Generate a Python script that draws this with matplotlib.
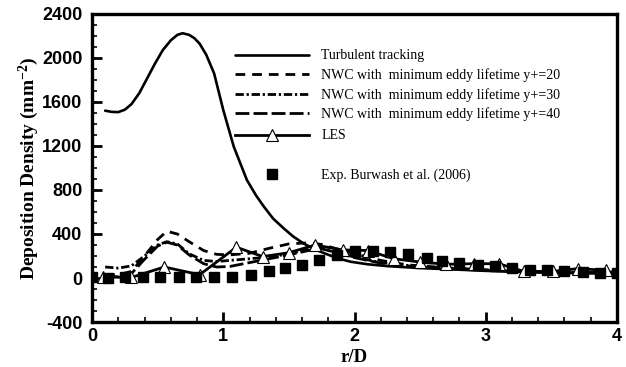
import matplotlib
matplotlib.use("Agg")
import matplotlib.pyplot as plt
from matplotlib.ticker import MultipleLocator

plt.rcParams["axes.unicode_minus"] = False
plt.rcParams["mathtext.fontset"] = "custom"
plt.rcParams["mathtext.rm"] = "Liberation Serif:bold"
plt.rcParams["mathtext.it"] = "Liberation Serif:bold"
plt.rcParams["mathtext.bf"] = "Liberation Serif:bold"

# ---------------- data ----------------
tt_x = [0.10, 0.15, 0.20, 0.25, 0.30, 0.36, 0.42, 0.48, 0.54, 0.60, 0.65, 0.69, 0.74, 0.78,
        0.82, 0.87, 0.93, 1.00, 1.08, 1.18, 1.25, 1.31, 1.38, 1.46, 1.53, 1.61, 1.69, 1.77,
        1.87, 1.97, 2.10, 2.25, 2.50, 2.75, 3.00, 3.25, 3.50, 3.75, 4.00]
tt_y = [1521, 1510, 1508, 1530, 1580, 1680, 1815, 1950, 2073, 2160, 2210, 2225, 2210, 2180,
        2130, 2030, 1861, 1527, 1194, 891, 750, 648, 540, 452, 380, 315, 265, 225,
        180, 148, 125, 108, 90, 78, 65, 55, 48, 43, 40]

nwc_x = [0.10, 0.20, 0.30, 0.40, 0.50, 0.57, 0.65, 0.74, 0.85, 0.95, 1.05, 1.20, 1.35, 1.50,
         1.65, 1.75, 1.85, 2.00, 2.20, 2.40, 2.60, 2.80, 3.00, 3.25, 3.50, 3.75, 4.00]
nwc20_y = [30, 30, 60, 200, 350, 425, 400, 330, 250, 215, 210, 225, 270, 310,
           320, 305, 270, 220, 160, 120, 100, 85, 75, 65, 58, 55, 55]
nwc30_y = [100, 90, 110, 200, 300, 330, 310, 220, 160, 150, 160, 175, 190, 220,
           260, 270, 240, 190, 140, 115, 100, 85, 75, 60, 55, 50, 50]
nwc40_y = [20, 10, 40, 170, 290, 325, 300, 210, 130, 100, 105, 140, 175, 210,
           250, 265, 235, 185, 135, 110, 95, 80, 70, 60, 52, 48, 45]

les_x = [0.08, 0.30, 0.55, 0.82, 1.10, 1.30, 1.50, 1.70, 1.91, 2.10, 2.30, 2.50, 2.70, 2.91,
         3.10, 3.29, 3.51, 3.70, 3.92]
les_y = [10, 5, 100, 30, 280, 195, 230, 300, 255, 250, 175, 145, 125, 130,
         130, 60, 60, 85, 70]

exp_x = [0.00, 0.12, 0.25, 0.39, 0.52, 0.66, 0.79, 0.93, 1.07, 1.21, 1.35, 1.47, 1.60, 1.73,
         1.87, 2.00, 2.14, 2.27, 2.41, 2.55, 2.67, 2.80, 2.94, 3.07, 3.20, 3.34, 3.47, 3.60,
         3.74, 3.87, 4.00]
exp_y = [5, 0, 5, 5, 5, 5, 5, 5, 12, 27, 60, 90, 120, 164,
         209, 245, 248, 233, 215, 179, 155, 133, 118, 109, 88, 73, 73, 67,
         57, 48, 42]

labels = ["Turbulent tracking",
          "NWC with  minimum eddy lifetime y+=20",
          "NWC with  minimum eddy lifetime y+=30",
          "NWC with  minimum eddy lifetime y+=40",
          "LES",
          "Exp. Burwash et al. (2006)"]

# ---------------- figure ----------------
fig = plt.figure(figsize=(6.26, 3.67), dpi=100)
ax = fig.add_axes([0.147, 0.1226, 0.8386, 0.8393])

lw = 2.0
l1, = ax.plot(tt_x, tt_y, color="black", lw=1.9, solid_capstyle="round")
l2, = ax.plot(nwc_x, nwc20_y, color="black", lw=lw, dashes=(3.5, 2.5))
l3, = ax.plot(nwc_x, nwc30_y, color="black", lw=lw, dashes=(3, 1, 0.8, 1))
l4, = ax.plot(nwc_x, nwc40_y, color="black", lw=lw, dashes=(5, 1.5))
l5, = ax.plot(les_x, les_y, color="black", lw=lw, marker="^", ms=9,
              markerfacecolor="white", markeredgecolor="black", markeredgewidth=0.8)
l6, = ax.plot(exp_x, exp_y, ls="none", marker="s", ms=6.6, color="black")

ax.set_xlim(0, 4)
ax.set_ylim(-400, 2400)
ax.xaxis.set_major_locator(MultipleLocator(1))
ax.xaxis.set_minor_locator(MultipleLocator(0.2))
ax.yaxis.set_major_locator(MultipleLocator(400))
ax.yaxis.set_minor_locator(MultipleLocator(100))

for s in ax.spines.values():
    s.set_linewidth(2.4)
ax.tick_params(which="major", direction="in", length=7, width=2.0,
               top=False, right=False)
ax.tick_params(axis="y", which="major", pad=7)
ax.tick_params(axis="x", which="major", pad=4)
ax.tick_params(which="minor", direction="in", length=3.5, width=1.2,
               top=False, right=False)
for lab in ax.get_xticklabels() + ax.get_yticklabels():
    lab.set_fontfamily("Liberation Sans")
    lab.set_fontweight("bold")
    lab.set_fontsize(13)

ax.set_xlabel("r/D", fontfamily="Liberation Serif", fontweight="bold",
              fontsize=13.5, labelpad=3)
ax.set_ylabel("Deposition Density (mm$^{-2}$)", fontfamily="Liberation Serif",
              fontweight="bold", fontsize=14, labelpad=1)

leg_font = {"family": "Liberation Serif", "size": 10}
common = dict(frameon=False, prop=leg_font, handlelength=5.3, handletextpad=0.9,
              borderaxespad=0, borderpad=0)
leg1 = ax.legend([l1, l2, l3, l4], labels[:4], loc="upper left",
                 bbox_to_anchor=(0.273, 0.885), labelspacing=0.42, **common)
ax.add_artist(leg1)
leg2 = ax.legend([l5], [labels[4]], loc="upper left",
                 bbox_to_anchor=(0.273, 0.625), **common)
ax.add_artist(leg2)
leg3 = ax.legend([l6], [labels[5]], loc="upper left",
                 bbox_to_anchor=(0.273, 0.497), **common)

fig.savefig("out.png", dpi=100)
